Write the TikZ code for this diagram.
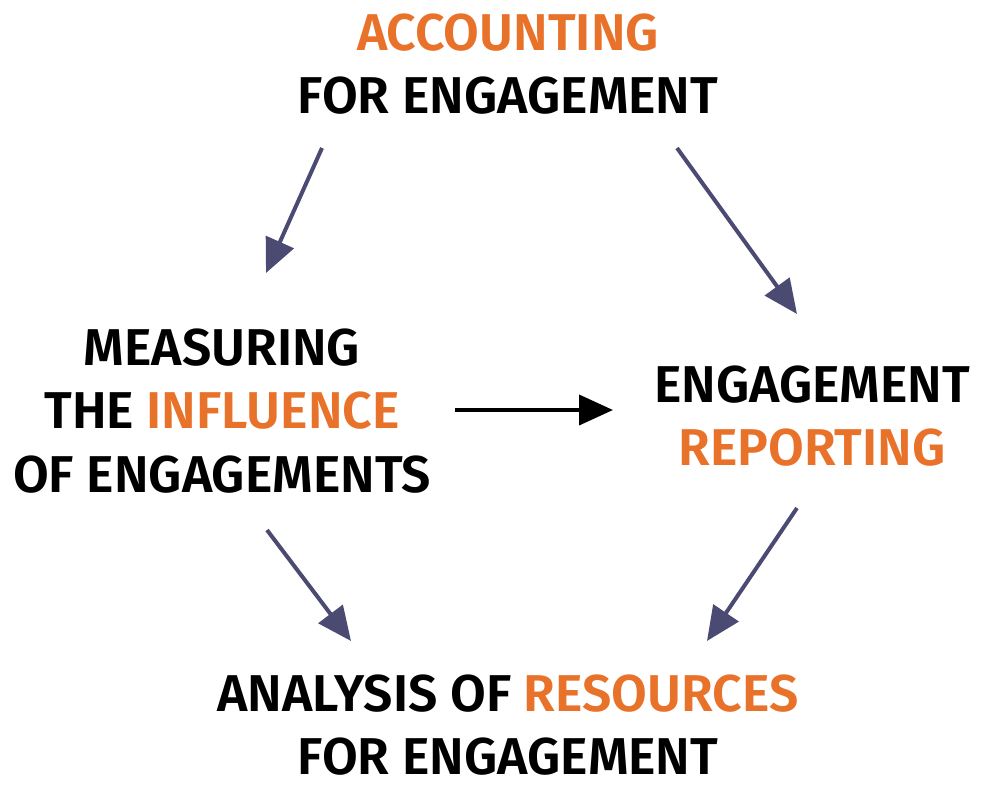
\documentclass[tikz,border=0pt]{standalone}
\usepackage{fontspec}
\setmainfont{Fira Sans}[UprightFont=* SemiBold]
\usetikzlibrary{arrows.meta}
\definecolor{org}{HTML}{E8722A}
\definecolor{arr}{HTML}{4A4A72}
\begin{document}
\begin{tikzpicture}[x=1bp,y=-1bp,
  lbl/.style={align=center,font=\fontsize{52}{64}\selectfont,inner sep=0},
  con/.style={line width=4bp,-{Triangle[length=34bp,width=30bp]},shorten >=0bp}]
\useasboundingbox (0,0) rectangle (982,788);
\node[lbl] (top) at (508,64) {\textcolor{org}{ACCOUNTING}\\FOR ENGAGEMENT};
\node[lbl] (left) at (222,411) {MEASURING\\THE \textcolor{org}{INFLUENCE}\\OF ENGAGEMENTS};
\node[lbl] (right) at (812,416) {ENGAGEMENT\\\textcolor{org}{REPORTING}};
\node[lbl] (bot) at (508,725) {ANALYSIS OF \textcolor{org}{RESOURCES}\\FOR ENGAGEMENT};
\coordinate (a1) at (322,148); \coordinate (a2) at (266,273);
\coordinate (b1) at (677,148); \coordinate (b2) at (797,314);
\coordinate (c1) at (455,410); \coordinate (c2) at (613,410);
\coordinate (d1) at (267,530); \coordinate (d2) at (351,641);
\coordinate (e1) at (797,508); \coordinate (e2) at (707,641);
\draw[con,arr] (a1) -- (a2);
\draw[con,arr] (b1) -- (b2);
\draw[con,black] (c1) -- (c2);
\draw[con,arr] (d1) -- (d2);
\draw[con,arr] (e1) -- (e2);
\end{tikzpicture}
\end{document}
